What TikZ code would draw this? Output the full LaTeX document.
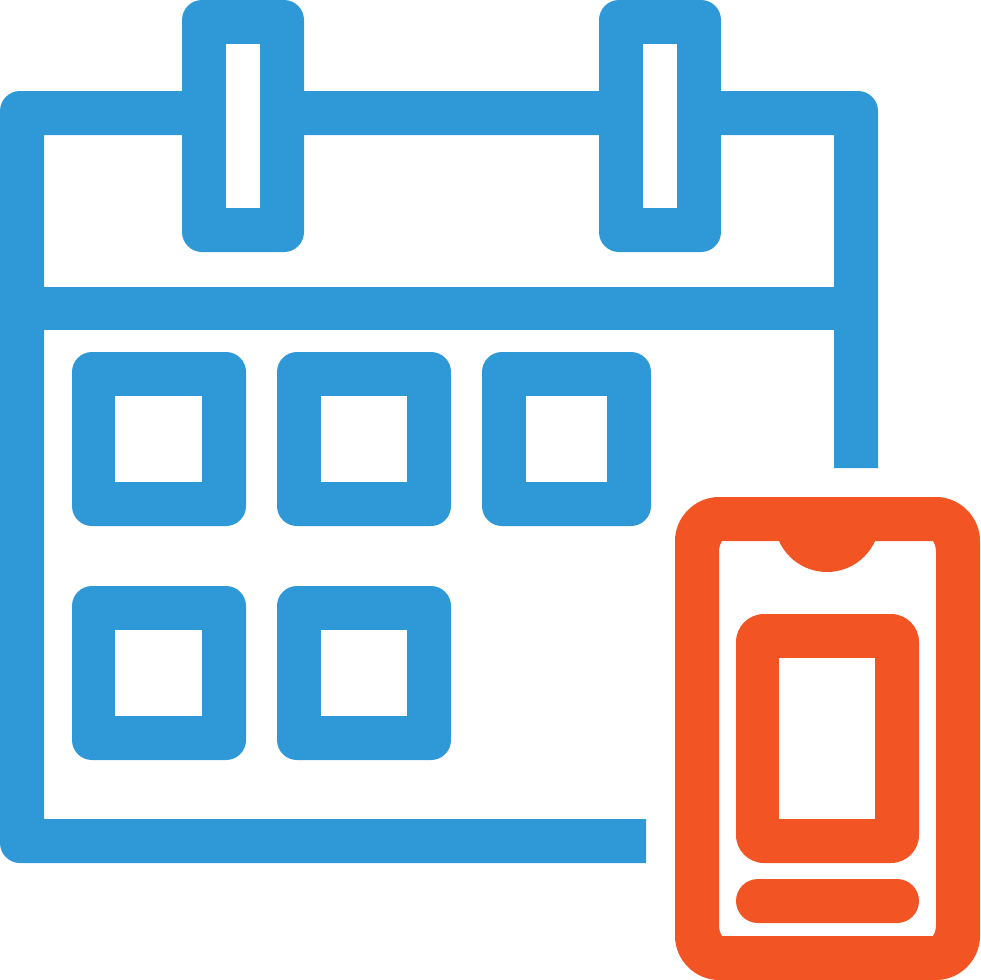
\documentclass[tikz,border=0pt]{standalone}
\definecolor{calblue}{HTML}{2F98D6}
\definecolor{phoneorange}{HTML}{F25523}
\tikzset{
  calshape/.style={fill=calblue,even odd rule},
  phoneshape/.style={fill=phoneorange,even odd rule}
}
\begin{document}
\begin{tikzpicture}[x=1pt,y=-1pt]
\useasboundingbox (0,0) rectangle (980,980);
% calendar frame
\path[calshape]
  (646,863) -- (20,863) .. controls (9,863) and (0,854) .. (0,843)
  -- (0,111) .. controls (0,100) and (9,91) .. (20,91)
  -- (858,91) .. controls (869,91) and (878,100) .. (878,111)
  -- (878,468) -- (834,468) -- (834,135) -- (44,135) -- (44,819) -- (646,819) -- cycle;
\path[fill=calblue] (30,287) rectangle (850,330);
% rings
\path[calshape,rounded corners=20pt] (182,0) rectangle (304,252);
\path[fill=white] (226,44) rectangle (260,208);
\path[calshape,rounded corners=20pt] (599,0) rectangle (721,252);
\path[fill=white] (643,44) rectangle (677,208);
% day cells
\path[calshape,rounded corners=20pt] (72,352) rectangle (246,526);
\path[fill=white] (115,396) rectangle (202,482);
\path[calshape,rounded corners=20pt] (277,352) rectangle (451,526);
\path[fill=white] (321,396) rectangle (407,482);
\path[calshape,rounded corners=20pt] (482,352) rectangle (651,526);
\path[fill=white] (526,396) rectangle (607,482);
\path[calshape,rounded corners=20pt] (72,586) rectangle (246,760);
\path[fill=white] (115,630) rectangle (202,716);
\path[calshape,rounded corners=20pt] (277,586) rectangle (451,760);
\path[fill=white] (321,630) rectangle (407,716);
% phone body
\path[phoneshape]
  (719,497) -- (936,497) .. controls (960,497) and (980,517) .. (980,541)
  -- (980,936) .. controls (980,960) and (960,980) .. (936,980)
  -- (719,980) .. controls (695,980) and (675,960) .. (675,936)
  -- (675,541) .. controls (675,517) and (695,497) .. (719,497) -- cycle
  (722,541) .. controls (720,544) and (719,548) .. (719,552)
  -- (719,925) .. controls (719,929) and (720,933) .. (722,936)
  -- (933,936) .. controls (935,933) and (936,929) .. (936,925)
  -- (936,552) .. controls (936,548) and (935,544) .. (933,541) -- cycle;
% notch
\begin{scope}
  \clip (719,510) rectangle (936,600);
  \path[fill=phoneorange] (827,519.3) circle[radius=52.7];
\end{scope}
% phone screen card
\path[phoneshape,rounded corners=28pt] (736,614) rectangle (919,863);
\path[fill=white] (779,658) rectangle (875,819);
% phone bar
\path[phoneshape,rounded corners=22pt] (736,879) rectangle (919,923);
\end{tikzpicture}
\end{document}
